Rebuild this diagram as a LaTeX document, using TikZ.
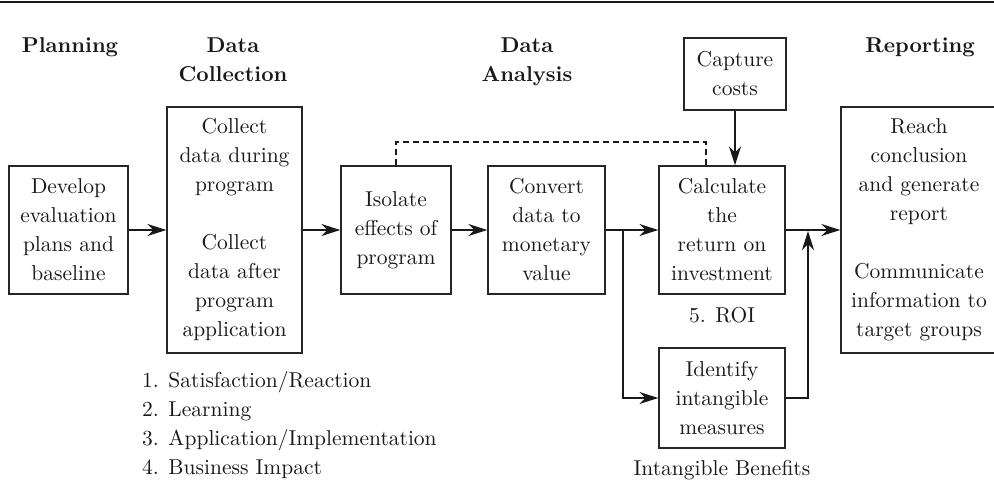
\documentclass[tikz,border=0pt]{standalone}
\usepackage{fontspec}
\setmainfont{lmroman10-regular.otf}[BoldFont=lmroman10-bold.otf]
\usetikzlibrary{arrows.meta}
\begin{document}
\begin{tikzpicture}[x=1pt,y=-1pt,
  boxtext/.style={font=\fontsize{21.5}{29}\selectfont},
  stagebox/.style={draw=black!85,line width=1.3pt,inner sep=0pt,align=center,boxtext,text=black!90},
  header/.style={font=\fontsize{21.5}{29}\selectfont\bfseries,text=black!90,inner sep=0pt,align=center},
  caption/.style={boxtext,text=black!90,inner sep=0pt},
  flow/.style={line width=2pt,draw=black!90,-{Stealth[length=19pt,width=12pt,inset=6pt]}},
  feedback/.style={line width=1.4pt,draw=black!90,dash pattern=on 6pt off 4pt}]
  \useasboundingbox (0,0) rectangle (994,500);

  % top rule
  \coordinate (ruleL) at (0,2);
  \coordinate (ruleR) at (994,2);
  \draw[line width=2pt,black!90] (ruleL) -- (ruleR);

  % phase headings
  \node[header,anchor=base] (hPlan) at (70,53) {Planning};
  \node[header,anchor=base] (hCol1) at (233,53) {Data};
  \node[header,anchor=base] (hCol2) at (233,82) {Collection};
  \node[header,anchor=base] (hAna1) at (527,53) {Data};
  \node[header,anchor=base] (hAna2) at (527,82) {Analysis};
  \node[header,anchor=base] (hRep) at (920,53) {Reporting};

  % process boxes
  \node[stagebox,minimum width=119pt,minimum height=128pt] (dev) at (68.5,230)
    {Develop\\evaluation\\plans and\\baseline};
  \node[stagebox,minimum width=135pt,minimum height=246pt] (col) at (234.5,230)
    {Collect\\data during\\program\\[29pt]Collect\\data after\\program\\application};
  \node[stagebox,minimum width=110pt,minimum height=128pt] (iso) at (396,230)
    {Isolate\\effects of\\program};
  \node[stagebox,minimum width=117pt,minimum height=128pt] (conv) at (546.5,230)
    {Convert\\data to\\monetary\\value};
  \node[stagebox,minimum width=126pt,minimum height=128pt] (calc) at (722,230)
    {Calculate\\the\\return on\\investment};
  \node[stagebox,minimum width=102pt,minimum height=72pt] (cap) at (735,74)
    {Capture\\costs};
  \node[stagebox,minimum width=126pt,minimum height=100pt] (ident) at (722,398)
    {Identify\\intangible\\measures};
  \node[stagebox,minimum width=156pt,minimum height=246pt] (rep) at (919,230)
    {Reach\\conclusion\\and generate\\report\\[29pt]Communicate\\information to\\target groups};

  % captions
  \node[caption,anchor=base west] (lv1) at (142,387) {1. Satisfaction/Reaction};
  \node[caption,anchor=base west] (lv2) at (142,416) {2. Learning};
  \node[caption,anchor=base west] (lv3) at (142,445) {3. Application/Implementation};
  \node[caption,anchor=base west] (lv4) at (142,474) {4. Business Impact};
  \node[caption,anchor=base] (roi) at (722,322) {5. ROI};
  \node[caption,anchor=base] (intb) at (722,475) {Intangible Benefits};

  % main flow
  \draw[flow] (dev) -- (col);
  \draw[flow] (col) -- (iso);
  \draw[flow] (iso) -- (conv);
  \draw[flow] (conv) -- (calc);
  \draw[flow] (cap.south) -- (cap.south |- calc.north);
  \draw[flow] (calc) -- (rep);

  % branch to intangible measures
  \coordinate (split) at (623,230);
  \draw[flow] (split) |- (ident.west);

  % intangible measures rejoin the flow
  \coordinate (rejoin) at (808,231);
  \draw[flow] (ident.east) -| (rejoin);

  % dashed link from isolation to the ROI calculation
  \coordinate (dashA) at (396,142);
  \coordinate (dashB) at (706,142);
  \draw[feedback] (iso.north) -- (dashA) -- (dashB) -- (dashB |- calc.north);
\end{tikzpicture}
\end{document}
